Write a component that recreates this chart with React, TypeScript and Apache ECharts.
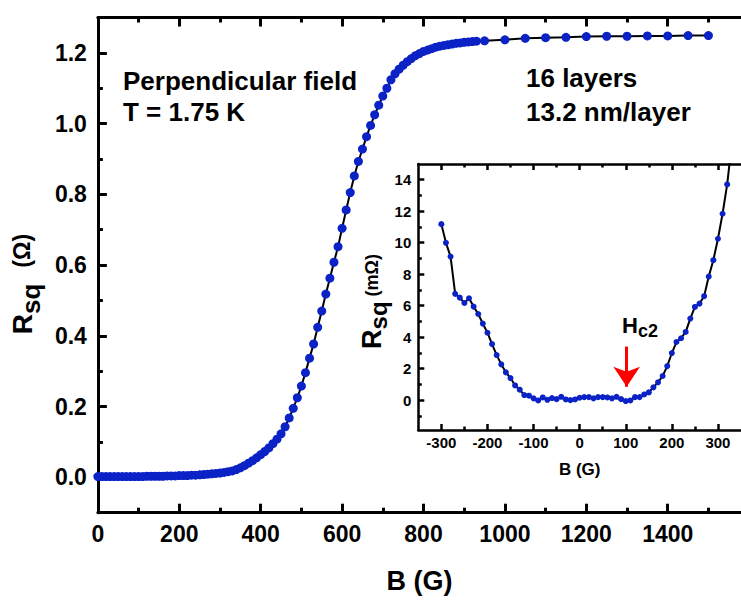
import { useEffect, useRef } from 'react';
import * as echarts from 'echarts';

const FONT = '"Liberation Sans", Arial, Helvetica, sans-serif';
const BLUE = '#0a22c6';

// Main panel: B (G) vs Rsq (Ohm)
const mainField = [
  0, 10, 20, 30, 40, 50, 60, 70, 80, 90,
  100, 110, 120, 130, 140, 150, 160, 170, 180, 190,
  200, 210, 220, 230, 240, 250, 260, 270, 280, 290,
  300, 310, 320, 330, 340, 350, 360, 370, 380, 390,
  400, 410, 420, 430, 440, 450, 460, 470, 480, 490,
  500, 510, 520, 530, 540, 550, 560, 570, 580, 590,
  600, 610, 620, 630, 640, 650, 660, 670, 680, 690,
  700, 710, 720, 730, 740, 750, 760, 770, 780, 790,
  800, 810, 820, 830, 840, 850, 860, 870, 880, 890,
  900, 910, 920, 930,
  950, 1000, 1050, 1100, 1150, 1200, 1250, 1300, 1350, 1400, 1450, 1500,
];
const mainRsq = [
  0.002, 0.002, 0.002, 0.002, 0.002, 0.002, 0.002, 0.002, 0.002, 0.002,
  0.002, 0.002, 0.003, 0.003, 0.003, 0.003, 0.003, 0.004, 0.004, 0.004,
  0.005, 0.005, 0.005, 0.006, 0.006, 0.007, 0.008, 0.009, 0.010, 0.011,
  0.012, 0.014, 0.016, 0.018, 0.022, 0.027, 0.033, 0.040, 0.047, 0.055,
  0.064, 0.073, 0.083, 0.095, 0.108, 0.123, 0.143, 0.168, 0.195, 0.225,
  0.258, 0.296, 0.337, 0.377, 0.424, 0.470, 0.518, 0.563, 0.608, 0.652,
  0.704, 0.756, 0.805, 0.852, 0.893, 0.928, 0.963, 0.995, 1.025, 1.052,
  1.078, 1.100, 1.124, 1.141, 1.154, 1.165, 1.175, 1.184, 1.192, 1.198,
  1.204, 1.208, 1.212, 1.216, 1.219, 1.221, 1.223, 1.225, 1.227, 1.228,
  1.230, 1.231, 1.232, 1.233,
  1.234, 1.237, 1.241, 1.243, 1.244, 1.246, 1.247, 1.247, 1.248, 1.248, 1.249, 1.249,
];

// Inset: B (G) vs Rsq (mOhm)
const insetField = [
  -300, -290, -280, -270, -260, -250, -240, -230, -220, -210,
  -200, -190, -180, -170, -160, -150, -140, -130, -120, -110,
  -100, -90, -80, -70, -60, -50, -40, -30, -20, -10,
  0, 10, 20, 30, 40, 50, 60, 70, 80, 90,
  100, 110, 120, 130, 140, 150, 160, 170, 180, 190,
  200, 210, 220, 230, 240, 250, 260, 270, 280, 290,
  300, 310, 320, 330,
];
const insetRsq = [
  11.18, 9.99, 9.12, 6.75, 6.51, 6.17, 6.47, 5.94, 5.47, 4.86,
  4.28, 3.56, 2.86, 2.27, 1.76, 1.40, 0.93, 0.66, 0.32, 0.28,
  0.11, -0.02, 0.17, 0.02, 0.13, 0.06, 0.21, 0.04, 0.0, 0.04,
  0.15, 0.19, 0.19, 0.11, 0.19, 0.19, 0.17, 0.11, 0.21, 0.06,
  -0.06, -0.02, 0.19, 0.19, 0.36, 0.49, 0.81, 1.13, 1.53, 2.16,
  2.99, 3.69, 3.93, 4.33, 5.18, 5.92, 6.13, 6.60, 7.85, 8.89,
  10.25, 11.84, 13.70, 16.3,
];

const mainXMajor = [0, 200, 400, 600, 800, 1000, 1200, 1400];
const mainXMinor = [100, 300, 500, 700, 900, 1100, 1300, 1500];
const mainYMajor = [0, 0.2, 0.4, 0.6, 0.8, 1.0, 1.2];
const mainYMinor = [0.1, 0.3, 0.5, 0.7, 0.9, 1.1];
const insetXMajor = [-300, -200, -100, 0, 100, 200, 300];
const insetXMinor = [-250, -150, -50, 50, 150, 250];
const insetYMajor = [0, 2, 4, 6, 8, 10, 12, 14];
const insetYMinor = [-1, 1, 3, 5, 7, 9, 11, 13];

const HC2_FIELD = 102;

function makeAxis(o: any) {
  return {
    type: 'value',
    gridIndex: o.grid,
    position: o.pos,
    min: o.min,
    max: o.max,
    axisLine: { show: !!o.line, onZero: false, lineStyle: { color: '#000', width: o.w } },
    axisTick: {
      show: true,
      inside: true,
      length: o.len,
      customValues: o.ticks,
      lineStyle: { color: '#000', width: o.w },
    },
    axisLabel: o.label
      ? {
          show: true,
          customValues: o.ticks,
          margin: o.label.margin,
          color: '#000',
          fontFamily: FONT,
          fontWeight: 'bold',
          fontSize: o.label.size,
          formatter: o.label.formatter,
        }
      : { show: false },
    splitLine: { show: false },
    name: o.name,
    nameLocation: 'middle',
    nameGap: o.nameGap,
    nameTextStyle: o.nameStyle,
  };
}

export default function App() {
  const ref = useRef<HTMLDivElement>(null);

  useEffect(() => {
    if (!ref.current) return;
    const chart = echarts.init(ref.current, null, { renderer: 'svg' });

    const mainData = mainField.map((b, i) => [b, mainRsq[i]]);
    const insetData = insetField.map((b, i) => [b, insetRsq[i]]);

    const option: any = {
      animation: false,
      backgroundColor: '#fff',
      grid: [
        { left: 97.7, top: 17.5, width: 651.6, height: 495.2, containLabel: false },
        { left: 418.3, top: 164, width: 332.5, height: 266, containLabel: false },
      ],
      xAxis: [
        makeAxis({
          grid: 0, pos: 'bottom', min: 0, max: 1580, line: true, w: 3, len: 9, ticks: mainXMajor,
          label: { size: 23, margin: 10, formatter: (v: number) => String(v) },
          name: 'B (G)', nameGap: 55,
          nameStyle: { fontFamily: FONT, fontWeight: 'bold', fontSize: 27, color: '#000' },
        }),
        makeAxis({ grid: 0, pos: 'bottom', min: 0, max: 1580, w: 3, len: 5, ticks: mainXMinor }),
        makeAxis({ grid: 0, pos: 'top', min: 0, max: 1580, line: true, w: 3, len: 9, ticks: mainXMajor }),
        makeAxis({ grid: 0, pos: 'top', min: 0, max: 1580, w: 3, len: 5, ticks: mainXMinor }),
        makeAxis({
          grid: 1, pos: 'bottom', min: -350, max: 350, line: true, w: 2.5, len: 6, ticks: insetXMajor,
          label: { size: 15, margin: 5, formatter: (v: number) => String(v) },
          name: 'B (G)', nameGap: 31,
          nameStyle: { fontFamily: FONT, fontWeight: 'bold', fontSize: 17, color: '#000' },
        }),
        makeAxis({ grid: 1, pos: 'bottom', min: -350, max: 350, w: 2.5, len: 3.5, ticks: insetXMinor }),
        makeAxis({ grid: 1, pos: 'top', min: -350, max: 350, line: true, w: 2.5, len: 6, ticks: insetXMajor }),
        makeAxis({ grid: 1, pos: 'top', min: -350, max: 350, w: 2.5, len: 3.5, ticks: insetXMinor }),
      ],
      yAxis: [
        makeAxis({
          grid: 0, pos: 'left', min: -0.1, max: 1.3, line: true, w: 3, len: 9, ticks: mainYMajor,
          label: { size: 23, margin: 11, formatter: (v: number) => v.toFixed(1) },
          name: '{r|R}{s|sq}{u|(Ω)}', nameGap: 33,
          nameStyle: {
            color: '#000',
            padding: [0, 38, 0, 0],
            rich: {
              r: { fontFamily: FONT, fontWeight: 'bold', fontSize: 28, color: '#000' },
              s: { fontFamily: FONT, fontWeight: 'bold', fontSize: 26, color: '#000', padding: [18, 0, 0, 0], verticalAlign: 'bottom' },
              u: { fontFamily: FONT, fontWeight: 'bold', fontSize: 23, color: '#000', padding: [0, 0, 0, 16] },
            },
          },
        }),
        makeAxis({ grid: 0, pos: 'left', min: -0.1, max: 1.3, w: 3, len: 5, ticks: mainYMinor }),
        makeAxis({
          grid: 1, pos: 'left', min: -1.9, max: 15, line: true, w: 2.5, len: 6, ticks: insetYMajor,
          label: { size: 15, margin: 7, formatter: (v: number) => String(v) },
          name: '{r|R}{s|sq}{u| (mΩ)}', nameGap: 7,
          nameStyle: {
            color: '#000',
            padding: [0, 9, 0, 0],
            rich: {
              r: { fontFamily: FONT, fontWeight: 'bold', fontSize: 27, color: '#000' },
              s: { fontFamily: FONT, fontWeight: 'bold', fontSize: 24, color: '#000', padding: [14, 0, 0, 0], verticalAlign: 'bottom' },
              u: { fontFamily: FONT, fontWeight: 'bold', fontSize: 18, color: '#000' },
            },
          },
        }),
        makeAxis({ grid: 1, pos: 'left', min: -1.9, max: 15, w: 2.5, len: 3.5, ticks: insetYMinor }),
      ],
      series: [
        {
          type: 'line',
          name: 'main',
          xAxisIndex: 0,
          yAxisIndex: 0,
          data: mainData,
          symbol: 'circle',
          symbolSize: 9,
          showSymbol: true,
          clip: true,
          itemStyle: { color: BLUE },
          lineStyle: { color: '#000', width: 2 },
        },
        {
          type: 'line',
          name: 'inset',
          xAxisIndex: 4,
          yAxisIndex: 2,
          data: insetData,
          symbol: 'circle',
          symbolSize: 6,
          showSymbol: true,
          clip: true,
          itemStyle: { color: BLUE },
          lineStyle: { color: '#000', width: 2 },
          markLine: {
            silent: true,
            symbol: ['none', 'arrow'],
            symbolSize: 20,
            label: { show: false },
            lineStyle: { color: '#ff0000', width: 3, type: 'solid' },
            data: [[{ coord: [HC2_FIELD, 3.4] }, { coord: [HC2_FIELD, 0.85] }]],
          },
        },
      ],
      graphic: [
        {
          type: 'text', x: 123, y: 81,
          style: { text: 'Perpendicular field', font: `bold 26px ${FONT}`, fill: '#000', textAlign: 'left', textVerticalAlign: 'middle' },
        },
        {
          type: 'text', x: 123, y: 112,
          style: { text: 'T = 1.75 K', font: `bold 26px ${FONT}`, fill: '#000', textAlign: 'left', textVerticalAlign: 'middle' },
        },
        {
          type: 'text', x: 526, y: 78,
          style: { text: '16 layers', font: `bold 26px ${FONT}`, fill: '#000', textAlign: 'left', textVerticalAlign: 'middle' },
        },
        {
          type: 'text', x: 526, y: 112,
          style: { text: '13.2 nm/layer', font: `bold 26px ${FONT}`, fill: '#000', textAlign: 'left', textVerticalAlign: 'middle' },
        },
        {
          type: 'text', x: 622, y: 325,
          style: {
            text: '{h|H}{c|c2}',
            textAlign: 'left',
            textVerticalAlign: 'middle',
            rich: {
              h: { fontFamily: FONT, fontWeight: 'bold', fontSize: 22, fill: '#000' },
              c: { fontFamily: FONT, fontWeight: 'bold', fontSize: 18, fill: '#000', padding: [12, 0, 0, 0], verticalAlign: 'bottom' },
            },
          },
        },
      ],
    };

    chart.setOption(option);
    return () => chart.dispose();
  }, []);

  return (
    <div
      ref={ref}
      style={{ position: 'absolute', left: 0, top: 0, width: 741, height: 601, background: '#fff' }}
    />
  );
}
